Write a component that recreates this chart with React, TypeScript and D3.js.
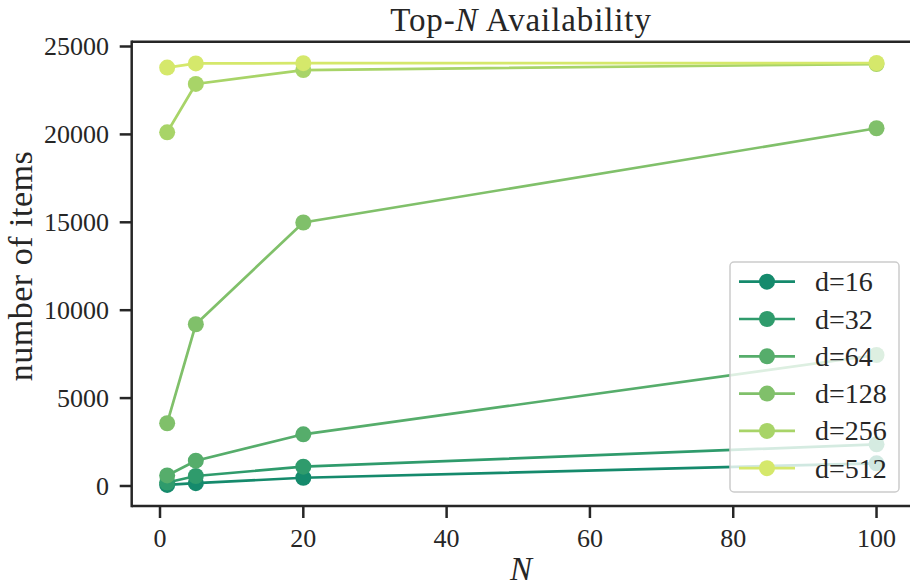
import React from "react";
import * as d3 from "d3";

const nValues = [1, 5, 20, 100];
const seriesLabels = ["d=16", "d=32", "d=64", "d=128", "d=256", "d=512"];
const d16 = [60, 160, 470, 1290];
const d32 = [200, 570, 1100, 2370];
const d64 = [600, 1440, 2940, 7450];
const d128 = [3570, 9200, 14990, 20350];
const d256 = [20120, 22870, 23660, 24000];
const d512 = [23800, 24040, 24050, 24060];
const seriesValues = [d16, d32, d64, d128, d256, d512];
const colors = ["#158a6c", "#2f9b6c", "#56ad6b", "#80c06a", "#a8d468", "#d5e86b"];
const xTicks = [0, 20, 40, 60, 80, 100];
const yTicks = [0, 5000, 10000, 15000, 20000, 25000];

const W = 910;
const H = 588;
const FONT = "'Liberation Serif', 'Times New Roman', serif";
const INK = "#262626";

export default function App() {
  const left = 131.7, right = 912, top = 41.7, bottom = 506;
  const x = d3.scaleLinear().domain([-3.95, 104.95]).range([left, right]);
  const y = d3.scaleLinear().domain([-1138, 25273]).range([bottom, top]);
  const line = d3.line<number>().x((_, i) => x(nValues[i])).y((v) => y(v));

  const legX = 730, legY = 262, legW = 169, legH = 230;
  const rowY = (i: number) => 281.7 + i * 37.3;

  return (
    <div style={{ position: "absolute", left: 0, top: 0 }}>
      <svg width={W} height={H} style={{ display: "block", background: "#fff" }}>
        {/* title */}
        <text x={521} y={31} textAnchor="middle" fontFamily={FONT} fontSize={33} letterSpacing={0.9} fill={INK}>
          Top-<tspan fontStyle="italic">N</tspan> Availability
        </text>
        {/* series */}
        <g>
          {seriesValues.map((vals, si) => (
            <g key={si}>
              <path d={line(vals) || ""} fill="none" stroke={colors[si]} strokeWidth={2.7} />
              {vals.map((v, i) => (
                <circle key={i} cx={x(nValues[i])} cy={y(v)} r={8} fill={colors[si]} />
              ))}
            </g>
          ))}
        </g>
        {/* spines */}
        <g stroke={INK} strokeWidth={2.5} fill="none">
          <line x1={left} y1={top} x2={right} y2={top} />
          <line x1={left} y1={bottom} x2={right} y2={bottom} />
          <line x1={left} y1={top - 1.25} x2={left} y2={bottom + 1.25} />
          <line x1={right} y1={top} x2={right} y2={bottom} />
        </g>
        {/* x ticks */}
        {xTicks.map((t) => (
          <g key={t}>
            <line x1={x(t)} x2={x(t)} y1={bottom} y2={bottom + 12} stroke={INK} strokeWidth={2.5} />
            <text x={x(t)} y={547} textAnchor="middle" fontFamily={FONT} fontSize={26} fill={INK}>
              {t}
            </text>
          </g>
        ))}
        {/* y ticks */}
        {yTicks.map((t) => (
          <g key={t}>
            <line x1={left - 12} x2={left} y1={y(t)} y2={y(t)} stroke={INK} strokeWidth={2.5} />
            <text x={109} y={y(t)} dy="0.34em" textAnchor="end" fontFamily={FONT} fontSize={26} fill={INK}>
              {t}
            </text>
          </g>
        ))}
        {/* axis labels */}
        <text x={521} y={580} textAnchor="middle" fontFamily={FONT} fontSize={33} fontStyle="italic" fill={INK}>
          N
        </text>
        <text
          transform={`translate(32, 266) rotate(-90)`}
          textAnchor="middle"
          fontFamily={FONT}
          fontSize={34}
          letterSpacing={0.5}
          fill={INK}
        >
          number of items
        </text>
        {/* legend */}
        <rect x={legX} y={legY} width={legW} height={legH} rx={4} ry={4} fill="#fff" fillOpacity={0.8} stroke="#cccccc" strokeWidth={1.5} />
        {seriesLabels.map((lab, i) => (
          <g key={lab}>
            <line x1={739} x2={795} y1={rowY(i)} y2={rowY(i)} stroke={colors[i]} strokeWidth={2.7} />
            <circle cx={767} cy={rowY(i)} r={8} fill={colors[i]} />
            <text x={815} y={rowY(i)} dy="0.34em" fontFamily={FONT} fontSize={28} fill={INK}>
              {lab}
            </text>
          </g>
        ))}
      </svg>
    </div>
  );
}
